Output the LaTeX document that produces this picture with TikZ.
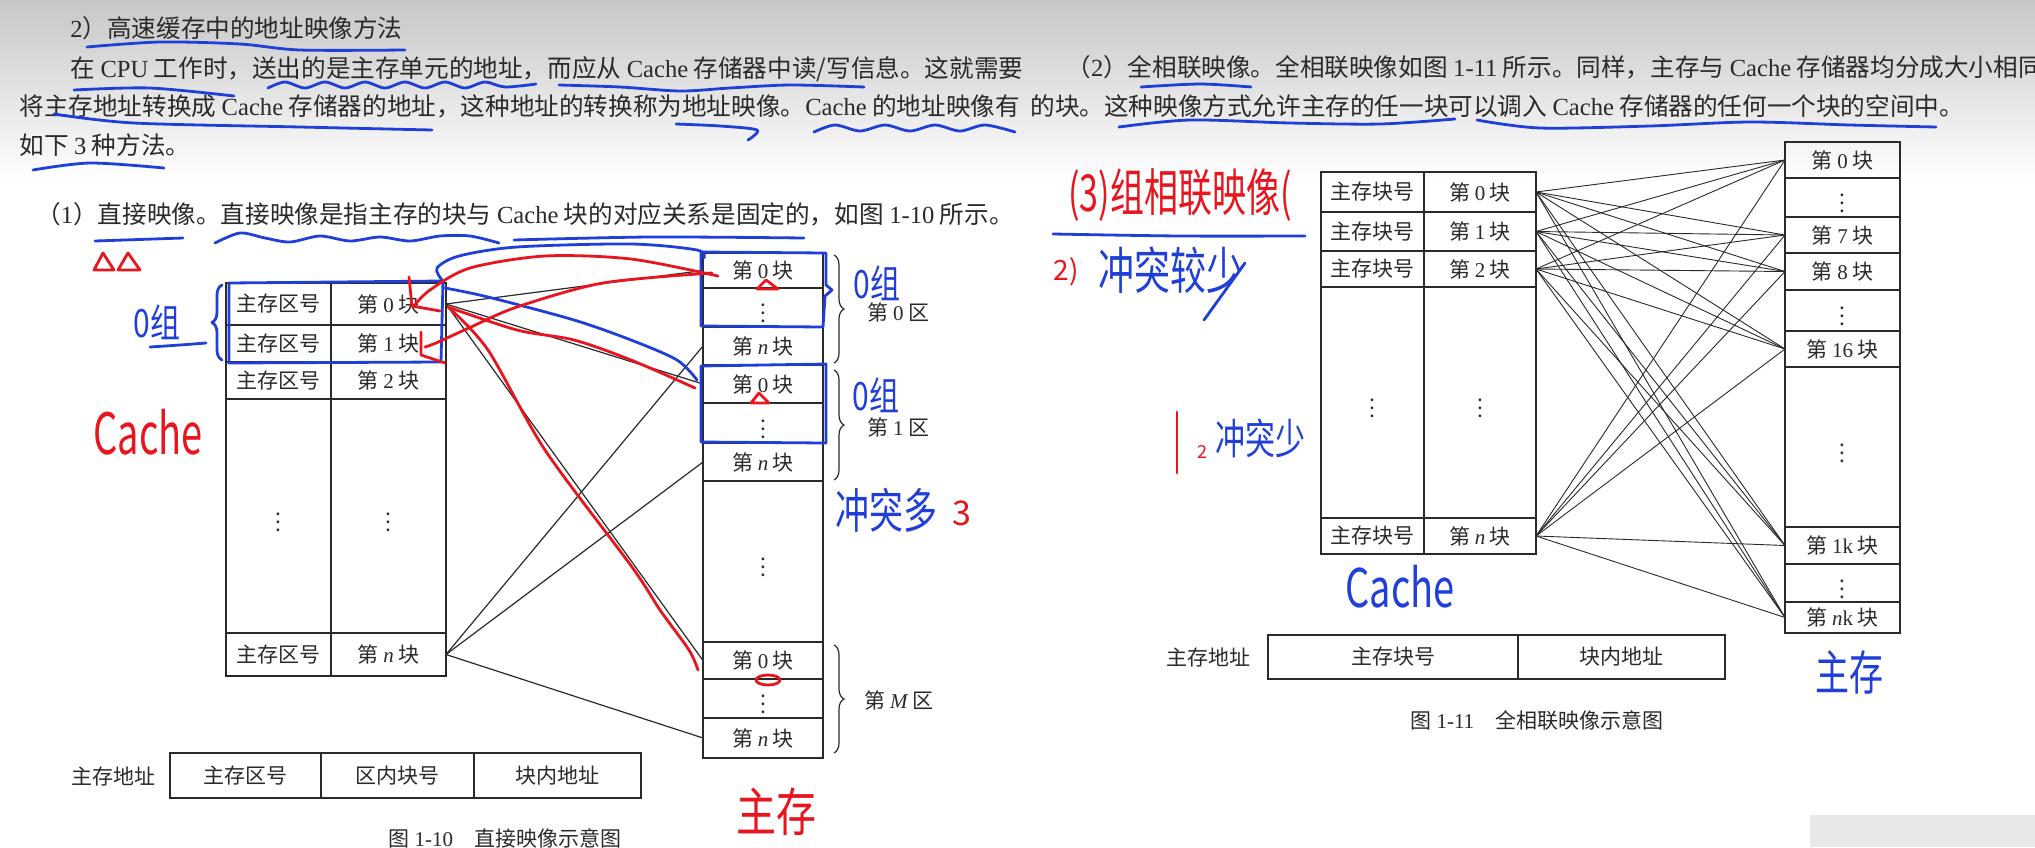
\documentclass[tikz,border=0pt]{standalone}
\usepackage{fontspec}
\usepackage{graphicx}
\setmainfont{Noto Sans CJK SC}
\newfontfamily\enf{Liberation Serif}
\newcommand\en[1]{{\enf #1}}
\newcommand\ei[1]{{\enf\itshape #1}}
\usetikzlibrary{decorations.pathreplacing}
\definecolor{ink}{HTML}{2A2A2A}
\definecolor{pblue}{HTML}{1F3FD8}
\definecolor{pred}{HTML}{E8141E}
\newcommand\mycell[6]{\node[cell, minimum width={(#4-#2)*0.5pt}, minimum height={(#5-#3)*0.5pt}] (#1) at ({(#2+#4)/2},{(#3+#5)/2}) {#6};}
\begin{document}
\begin{tikzpicture}[x=0.5pt,y=-0.5pt,
  cell/.style={draw=ink, line width=0.75pt, inner sep=0pt, outer sep=0pt, font=\fontsize{10.5}{12}\selectfont, text=ink},
  body/.style={anchor=west, inner sep=0pt, font=\fontsize{12.3}{14}\selectfont, text=ink},
  lbl/.style={inner sep=0pt, font=\fontsize{10.5}{12}\selectfont, text=ink},
  conn/.style={draw=ink, line width=0.6pt},
  rconn/.style={draw=ink, line width=0.45pt},
  brc/.style={draw=ink, line width=0.6pt, decorate, decoration={brace, amplitude=5pt}},
  bl/.style={draw=pblue, line width=1.4pt, line cap=round, line join=round},
  rd/.style={draw=pred, line width=1.4pt, line cap=round, line join=round},
  hwb/.style={inner sep=0pt, text=pblue},
  hwr/.style={inner sep=0pt, text=pred}]
\useasboundingbox (0,0) rectangle (2035,847);
\clip (0,0) rectangle (2035,847);
\fill[white] (0,0) rectangle (2035,847);
\shade[top color=black!22, bottom color=white] (0,0) rectangle (2035,180);
\fill[black!9] (1810,815) rectangle (2035,847);

% ---------- body text ----------
\node[body] (t1) at (70,28) {\en{2}）高速缓存中的地址映像方法};
\node[body] (t2) at (70,69) {在 \en{CPU} 工作时，送出的是主存单元的地址，而应从 \en{Cache} 存储器中读/写信息。这就需要};
\node[body] (t3) at (19,106) {将主存地址转换成 \en{Cache} 存储器的地址，这种地址的转换称为地址映像。\en{Cache} 的地址映像有};
\node[body] (t4) at (19,145) {如下 \en{3} 种方法。};
\node[body] (t5) at (1066,67) {（\en{2}）全相联映像。全相联映像如图 \en{1-11} 所示。同样，主存与 \en{Cache} 存储器均分成大小相同};
\node[body] (t6) at (1030,106) {的块。这种映像方式允许主存的任一块可以调入 \en{Cache} 存储器的任何一个块的空间中。};
\node[body] (t7) at (36,214) {（\en{1}）直接映像。直接映像是指主存的块与 \en{Cache} 块的对应关系是固定的，如图 \en{1-10} 所示。};

% ---------- figure 1-10 ----------
\mycell{a0}{226}{283}{331}{325}{主存区号}
\mycell{b0}{331}{283}{446}{325}{第 \en{0} 块}
\mycell{a1}{226}{325}{331}{362}{主存区号}
\mycell{b1}{331}{325}{446}{362}{第 \en{1} 块}
\mycell{a2}{226}{362}{331}{399}{主存区号}
\mycell{b2}{331}{362}{446}{399}{第 \en{2} 块}
\mycell{ad}{226}{399}{331}{633}{$\vdots$}
\mycell{bd}{331}{399}{446}{633}{$\vdots$}
\mycell{an}{226}{633}{331}{676}{主存区号}
\mycell{bn}{331}{633}{446}{676}{第 \ei{n} 块}

\mycell{m00}{703}{253}{823}{288}{第 \en{0} 块}
\mycell{m0d}{703}{288}{823}{327}{$\vdots$}
\mycell{m0n}{703}{327}{823}{365}{第 \ei{n} 块}
\mycell{m10}{703}{365}{823}{403}{第 \en{0} 块}
\mycell{m1d}{703}{403}{823}{443}{$\vdots$}
\mycell{m1n}{703}{443}{823}{481}{第 \ei{n} 块}
\mycell{mdd}{703}{481}{823}{642}{$\vdots$}
\mycell{mM0}{703}{642}{823}{679}{第 \en{0} 块}
\mycell{mMd}{703}{679}{823}{718}{$\vdots$}
\mycell{mMn}{703}{718}{823}{758}{第 \ei{n} 块}

\draw[brc] (834,255) -- (834,363);
\draw[brc] (834,370) -- (834,480);
\draw[brc] (834,645) -- (834,753);
\node[lbl, anchor=west] (z0) at (867,312) {第 \en{0} 区};
\node[lbl, anchor=west] (z1) at (867,427) {第 \en{1} 区};
\node[lbl, anchor=west] (zM) at (864,700) {第 \ei{M} 区};

\draw[conn] (b0.east) -- (m00.west);
\draw[conn] (b0.east) -- (m10.west);
\draw[conn] (b0.east) -- (mM0.west);
\draw[conn] (bn.east) -- (m0n.west);
\draw[conn] (bn.east) -- (m1n.west);
\draw[conn] (bn.east) -- (mMn.west);

\mycell{p1}{170}{753}{321}{798}{主存区号}
\mycell{p2}{321}{753}{474}{798}{区内块号}
\mycell{p3}{474}{753}{641}{798}{块内地址}
\node[lbl] (pl) at (113,776) {主存地址};
\node[lbl] (cap1) at (505,838) {图 \en{1-10}\quad 直接映像示意图};

% ---------- figure 1-11 ----------
\mycell{ra0}{1321}{172}{1424}{212}{主存块号}
\mycell{rb0}{1424}{172}{1536}{212}{第 \en{0} 块}
\mycell{ra1}{1321}{212}{1424}{251}{主存块号}
\mycell{rb1}{1424}{212}{1536}{251}{第 \en{1} 块}
\mycell{ra2}{1321}{251}{1424}{287}{主存块号}
\mycell{rb2}{1424}{251}{1536}{287}{第 \en{2} 块}
\mycell{rad}{1321}{287}{1424}{518}{$\vdots$}
\mycell{rbd}{1424}{287}{1536}{518}{$\vdots$}
\mycell{ran}{1321}{518}{1424}{554}{主存块号}
\mycell{rbn}{1424}{518}{1536}{554}{第 \ei{n} 块}

\mycell{q0}{1785}{142}{1900}{178}{第 \en{0} 块}
\mycell{qd1}{1785}{178}{1900}{217}{$\vdots$}
\mycell{q7}{1785}{217}{1900}{253}{第 \en{7} 块}
\mycell{q8}{1785}{253}{1900}{290}{第 \en{8} 块}
\mycell{qd2}{1785}{290}{1900}{331}{$\vdots$}
\mycell{q16}{1785}{331}{1900}{367}{第 \en{16} 块}
\mycell{qd3}{1785}{367}{1900}{527}{$\vdots$}
\mycell{q1k}{1785}{527}{1900}{564}{第 \en{1k} 块}
\mycell{qd4}{1785}{564}{1900}{602}{$\vdots$}
\mycell{qnk}{1785}{602}{1900}{633}{第 \ei{n}\en{k} 块}

\foreach \s in {rb0,rb1,rb2,rbn}
  \foreach \t in {q0,q7,q8,q16,q1k,qnk}
    \draw[rconn] (\s.east) -- (\t.west);

\mycell{s1}{1268}{635}{1518}{679}{主存块号}
\mycell{s2}{1518}{635}{1725}{679}{块内地址}
\node[lbl] (sl) at (1208,657) {主存地址};
\node[lbl] (cap2) at (1537,720) {图 \en{1-11}\quad 全相联映像示意图};

% ---------- handwritten annotations ----------
\draw[bl] plot[smooth] coordinates {(87,47) (160,42) (240,44) (300,50) (405,50)};
\draw[bl] plot[smooth] coordinates {(74,90) (150,88) (234,96)};
\draw[bl] plot[smooth] coordinates {(268,88) (285,82) (305,88) (325,82) (345,88) (365,82) (385,88) (405,82) (425,88) (445,82) (465,88) (485,82) (505,87) (536,84)};
\draw[bl] plot[smooth] coordinates {(559,85) (620,87) (680,91) (730,88) (790,85) (864,87)};
\draw[bl] plot[smooth] coordinates {(54,114) (134,123) (300,127) (432,130)};
\draw[bl] plot[smooth] coordinates {(676,124) (720,126) (757,130) (748,140)};
\draw[bl] plot[smooth] coordinates {(814,132) (835,125) (860,131) (885,125) (910,131) (935,125) (960,131) (985,125) (1015,132)};
\draw[bl] plot[smooth] coordinates {(33,170) (90,163) (164,168)};
\draw[bl] plot[smooth] coordinates {(1141,87) (1200,84) (1251,87)};
\draw[bl] plot[smooth] coordinates {(1119,127) (1190,120) (1290,123) (1380,124) (1455,119)};
\draw[bl] plot[smooth] coordinates {(1477,120) (1540,128) (1650,126) (1750,122) (1850,125) (1936,127)};
\draw[bl] plot[smooth] coordinates {(95,241) (183,238)};
\draw[bl] plot[smooth] coordinates {(215,243) (240,233) (265,238) (290,242) (320,236) (350,241) (380,237) (410,241) (440,236) (470,236) (499,243)};
\draw[bl] plot[smooth] coordinates {(514,240) (650,237) (804,238)};

% left figure annotations
\draw[rd] (94,270) -- (103,253) -- (114,270) -- cycle;
\draw[rd] (118,270) -- (128,253) -- (140,270) -- cycle;
\node[hwr, font=\fontsize{19}{19}\selectfont] (hc1) at (148,432) {\scalebox{1}[1.5]{Cache}};
\node[hwb, font=\fontsize{15}{15}\selectfont] (g1) at (157,322) {\scalebox{1}[1.3]{0组}};
\draw[bl] plot[smooth] coordinates {(150,347) (180,345) (206,343)};
\draw[bl, decorate, decoration={brace, amplitude=5pt}] (222,360) -- (222,285);
\draw[bl] (229,283) -- (443,281) -- (441,362) -- (229,363) -- cycle;
\draw[bl] (701,252) -- (826,253) -- (826,285) -- (832,290) -- (825,296) -- (823,327) -- (701,326) -- cycle;
\draw[bl] (701,366) -- (826,364) -- (826,443) -- (701,442) -- cycle;
\draw[bl] plot[smooth] coordinates {(442,280) (437,268) (459,256) (517,247) (631,244) (697,250) (704,258)};
\draw[bl] plot[smooth] coordinates {(445,288) (488,297) (574,320) (631,340) (677,360) (697,380)};
\node[hwb, font=\fontsize{15}{15}\selectfont] (g2) at (877,283) {\scalebox{1}[1.3]{0组}};
\node[hwb, font=\fontsize{15}{15}\selectfont] (g3) at (876,395) {\scalebox{1}[1.3]{0组}};
\node[hwb, font=\fontsize{17}{17}\selectfont] (cf1) at (886,510) {\scalebox{1}[1.4]{冲突多}};
\node[hwr, font=\fontsize{17}{17}\selectfont] (cf1n) at (962,513) {3};

\draw[rd] plot[smooth] coordinates {(718,276) (631,259) (545,256) (470,268) (430,290) (413,307)};
\draw[rd] (409,277) -- (412,306) -- (440,311);
\draw[rd] plot[smooth] coordinates {(712,273) (603,283) (517,307) (471,327) (436,343) (425,347)};
\draw[rd] (421,332) -- (421,355) -- (445,363);
\draw[rd] plot[smooth] coordinates {(448,307) (517,330) (574,340) (631,360) (695,388)};
\draw[rd] plot[smooth] coordinates {(448,307) (488,350) (545,450) (632,567) (660,610) (689,650) (698,670)};
\draw[rd] (757,289) -- (766,280) -- (778,289) -- cycle;
\draw[rd] (751,403) -- (759,393) -- (769,403) -- cycle;
\draw[rd] (768,680) ellipse (12 and 5);
\node[hwr, font=\fontsize{20}{20}\selectfont] (zc1) at (776,812) {\scalebox{1}[1.3]{主存}};

% right figure annotations
\node[hwr, font=\fontsize{17}{17}\selectfont] (gx) at (1180,195) {\scalebox{1}[1.5]{(3)组相联映像(}};
\draw[bl] plot[smooth] coordinates {(1053,234) (1180,236) (1305,236)};
\node[hwr, font=\fontsize{14}{14}\selectfont] (n2) at (1066,272) {2)};
\node[hwb, font=\fontsize{18}{18}\selectfont] (cf2) at (1170,270) {\scalebox{1}[1.4]{冲突较少}};
\draw[bl] (1245,263) -- (1204,320);
\draw[rd] (1177,412) -- (1177,473);
\node[hwr, font=\fontsize{9}{9}\selectfont] (n1) at (1202,452) {2};
\node[hwb, font=\fontsize{15}{15}\selectfont] (cf3) at (1260,438) {\scalebox{1}[1.4]{冲突少}};
\node[hwb, font=\fontsize{19}{19}\selectfont] (hc2) at (1400,587) {\scalebox{1}[1.4]{Cache}};
\node[hwb, font=\fontsize{17}{17}\selectfont] (zc2) at (1849,672) {\scalebox{1}[1.4]{主存}};
\end{tikzpicture}
\end{document}
